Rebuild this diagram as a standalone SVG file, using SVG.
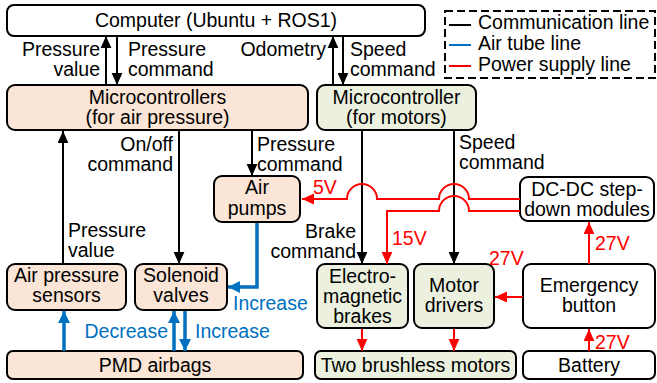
<svg xmlns="http://www.w3.org/2000/svg" width="657" height="383" viewBox="0 0 657 383">
<defs>
<style>
text{font-family:"Liberation Sans",Arial,sans-serif;font-size:19.5px;fill:#000}
.c{text-anchor:middle}
.e{text-anchor:end}
.bl{fill:#0070C0}
.rd{fill:#FF0000}
.box{stroke:#000;stroke-width:2}
.pe{fill:#FBE5D6}
.gr{fill:#EBF1DE}
.wh{fill:#fff}
.k{stroke:#000;stroke-width:2;fill:none;marker-end:url(#ak)}
.b{stroke:#0070C0;stroke-width:3.5;fill:none;marker-end:url(#ab)}
.r{stroke:#FF0000;stroke-width:2;fill:none;marker-end:url(#ar)}
</style>
<marker id="ak" markerUnits="userSpaceOnUse" markerWidth="12" markerHeight="12" viewBox="0 0 10 10" refX="10" refY="5" orient="auto"><path d="M0,0.5 L10,5 L0,9.5 z" fill="#000"/></marker>
<marker id="ab" markerUnits="userSpaceOnUse" markerWidth="12" markerHeight="12" viewBox="0 0 10 10" refX="10" refY="5" orient="auto"><path d="M0,0 L10,5 L0,10 z" fill="#0070C0"/></marker>
<marker id="ar" markerUnits="userSpaceOnUse" markerWidth="12" markerHeight="12" viewBox="0 0 10 10" refX="10" refY="5" orient="auto"><path d="M0,0.5 L10,5 L0,9.5 z" fill="#FF0000"/></marker>
</defs>
<rect width="657" height="383" fill="#fff"/>

<g id="legend">
<rect x="445" y="11" width="210" height="67" fill="none" stroke="#000" stroke-width="2" stroke-dasharray="8 4"/>
<line x1="449" y1="25" x2="471" y2="25" stroke="#000" stroke-width="2"/>
<line x1="449" y1="45" x2="471" y2="45" stroke="#0070C0" stroke-width="2"/>
<line x1="449" y1="66" x2="471" y2="66" stroke="#FF0000" stroke-width="2"/>
<text x="478" y="29">Communication line</text>
<text x="478" y="50">Air tube line</text>
<text x="478" y="71">Power supply line</text>
</g>

<g id="computer"><rect class="box wh" x="7" y="5" width="418" height="31" rx="7"/><text class="c" x="216" y="27">Computer (Ubuntu + ROS1)</text></g>
<g id="mc-air"><rect class="box pe" x="7" y="85" width="301" height="45" rx="8"/><text class="c" x="157.5" y="104">Microcontrollers</text><text class="c" x="157.5" y="124">(for air pressure)</text></g>
<g id="mc-motor"><rect class="box gr" x="317" y="85" width="159" height="45" rx="8"/><text class="c" x="396.5" y="104">Microcontroller</text><text class="c" x="396.5" y="124">(for motors)</text></g>
<g id="air-pumps"><rect class="box pe" x="214" y="176" width="86" height="46" rx="8"/><text class="c" x="257" y="194">Air</text><text class="c" x="257" y="215">pumps</text></g>
<g id="dcdc"><rect class="box wh" x="520" y="177" width="134" height="44" rx="8"/><text class="c" x="587" y="196">DC-DC step-</text><text class="c" x="587" y="216">down modules</text></g>
<g id="sensors"><rect class="box pe" x="7" y="264" width="119" height="46" rx="8"/><text class="c" x="66.5" y="282">Air pressure</text><text class="c" x="66.5" y="302">sensors</text></g>
<g id="solenoid"><rect class="box pe" x="135" y="264" width="92" height="46" rx="8"/><text class="c" x="181" y="282">Solenoid</text><text class="c" x="181" y="302">valves</text></g>
<g id="brakes"><rect class="box gr" x="317" y="264" width="91" height="64" rx="8"/><text class="c" x="362.5" y="283">Electro-</text><text class="c" x="362.5" y="303">magnetic</text><text class="c" x="362.5" y="323">brakes</text></g>
<g id="drivers"><rect class="box gr" x="414" y="264" width="80" height="64" rx="8"/><text class="c" x="454" y="292">Motor</text><text class="c" x="454" y="312">drivers</text></g>
<g id="emergency"><rect class="box wh" x="523" y="264" width="132" height="64" rx="8"/><text class="c" x="589" y="292">Emergency</text><text class="c" x="589" y="312">button</text></g>
<g id="pmd"><rect class="box pe" x="7" y="351" width="296" height="28" rx="6"/><text class="c" x="155" y="372">PMD airbags</text></g>
<g id="motors"><rect class="box gr" x="315" y="351" width="201" height="28" rx="6"/><text class="c" x="415.5" y="372">Two brushless motors</text></g>
<g id="battery"><rect class="box wh" x="523" y="351" width="132" height="28" rx="6"/><text class="c" x="589" y="372">Battery</text></g>

<g id="connectors">
<line class="k" x1="106" y1="85" x2="106" y2="36"/>
<line class="k" x1="117" y1="36" x2="117" y2="85"/>
<line class="k" x1="333" y1="85" x2="333" y2="36"/>
<line class="k" x1="343" y1="36" x2="343" y2="85"/>
<line class="k" x1="63" y1="264" x2="63" y2="131"/>
<line class="k" x1="179" y1="131" x2="179" y2="264"/>
<line class="k" x1="252" y1="131" x2="252" y2="176"/>
<line class="k" x1="362" y1="131" x2="362" y2="264"/>
<line class="k" x1="454" y1="131" x2="454" y2="264"/>

<path class="b" d="M257,223 V287 H228"/>
<line class="b" x1="64" y1="351" x2="64" y2="311"/>
<line class="b" x1="174" y1="351" x2="174" y2="311"/>
<line class="b" x1="185" y1="311" x2="185" y2="351"/>

<path class="r" d="M520,199 H469 A15,15 0 0 0 439,199 H377 A15,15 0 0 0 347,199 H302"/>
<path class="r" d="M520,211 H469 A15,15 0 0 0 439,211 H387 V264"/>
<line class="r" x1="589" y1="264" x2="589" y2="222"/>
<line class="r" x1="523" y1="297" x2="495" y2="297"/>
<line class="r" x1="362" y1="329" x2="362" y2="351"/>
<line class="r" x1="454" y1="329" x2="454" y2="351"/>
<line class="r" x1="589" y1="351" x2="589" y2="329"/>
</g>

<g id="labels">
<text class="e" x="100" y="56">Pressure</text>
<text class="e" x="100" y="76">value</text>
<text x="128" y="56">Pressure</text>
<text x="128" y="76">command</text>
<text class="e" x="326" y="56">Odometry</text>
<text x="350" y="56">Speed</text>
<text x="350" y="76">command</text>
<text class="e" x="173" y="151">On/off</text>
<text class="e" x="173" y="171">command</text>
<text x="257" y="151">Pressure</text>
<text x="257" y="171">command</text>
<text x="459" y="149">Speed</text>
<text x="459" y="169">command</text>
<text x="68" y="237">Pressure</text>
<text x="68" y="257">value</text>
<text class="e" x="356" y="238">Brake</text>
<text class="e" x="356" y="258">command</text>
<text class="bl" x="233" y="310">Increase</text>
<text class="bl e" x="168" y="338">Decrease</text>
<text class="bl" x="195" y="338">Increase</text>
<text class="rd" x="313" y="194">5V</text>
<text class="rd" x="392" y="245">15V</text>
<text class="rd" x="595" y="250">27V</text>
<text class="rd" x="489" y="265">27V</text>
<text class="rd" x="595" y="349">27V</text>
</g>
</svg>
